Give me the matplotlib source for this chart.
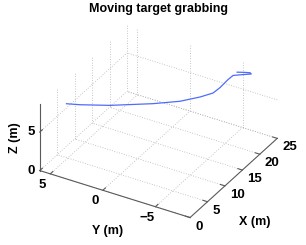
import numpy as np
import matplotlib
matplotlib.use("Agg")
import matplotlib.pyplot as plt
import matplotlib.transforms as mtransforms
from mpl_toolkits.mplot3d import proj3d

# ---------------- data ----------------
x_traj = [2.30, 3.04, 5.19, 8.85, 11.57, 14.23, 16.31, 18.29, 20.95, 22.45,
          23.47, 24.48, 24.69, 24.34, 23.87]
y_traj = [4.22, 3.20, 1.05, -1.84, -3.50, -4.53, -5.08, -5.09, -4.97, -4.95,
          -5.47, -6.00, -5.83, -5.37, -4.86]
z_traj = [8.50, 8.50, 8.45, 8.40, 8.30, 8.20, 8.10, 8.00, 7.90, 7.80,
          7.70, 7.60, 7.60, 7.60, 7.60]

x_ticks = [0, 5, 10, 15, 20, 25]
y_ticks = [-5, 0, 5]
z_ticks = [0, 5]
x_lim = (0, 25)
y_lim = (-8.3, 6.0)
z_lim = (0, 8.7)

title = "Moving target grabbing"
xlabel, ylabel, zlabel = "X (m)", "Y (m)", "Z (m)"

# ---------------- style ----------------
plt.rcParams['font.family'] = ['Liberation Sans', 'DejaVu Sans']
plt.rcParams['font.weight'] = 'bold'
W, H, DPI = 306, 245, 100
AXC = '#5a5a5a'
GRIDC = '#b4b4b4'
LINEC = '#4f6bff'

fig = plt.figure(figsize=(W / DPI, H / DPI), dpi=DPI)
ax = fig.add_axes([0.1, 0.1, 0.8, 0.8], projection='3d', proj_type='ortho',
                  computed_zorder=False)
ax.set_xlim(*x_lim)
ax.set_ylim(*y_lim)
ax.set_zlim(*z_lim)
ax.view_init(elev=32.2, azim=210.4)
ax.set_box_aspect((172, 174, 79))
ax.set_axis_off()

x0, x1 = x_lim
y0, y1 = y_lim
z0, z1 = z_lim

# grid (dotted) on floor and two back walls
gkw = dict(color=GRIDC, lw=0.6, ls=(0, (1, 2)), zorder=1)
for xv in x_ticks:
    ax.plot([xv, xv], [y0, y1], [z0, z0], **gkw)
    ax.plot([xv, xv], [y1, y1], [z0, z1], **gkw)
for yv in y_ticks:
    ax.plot([x0, x1], [yv, yv], [z0, z0], **gkw)
    ax.plot([x1, x1], [yv, yv], [z0, z1], **gkw)
for zv in z_ticks:
    ax.plot([x0, x1], [y1, y1], [zv, zv], **gkw)
    ax.plot([x1, x1], [y0, y1], [zv, zv], **gkw)

# axis lines
akw = dict(color=AXC, lw=0.8, zorder=3)
ax.plot([x0, x0], [y1, y0], [z0, z0], **akw)   # Y axis
ax.plot([x0, x1], [y0, y0], [z0, z0], **akw)   # X axis
ax.plot([x0, x0], [y1, y1], [z0, z1], **akw)   # Z axis
# tick marks
tx = 0.03 * (x1 - x0)
ty = 0.03 * (y1 - y0)
for yv in y_ticks:
    ax.plot([x0, x0 + tx], [yv, yv], [z0, z0], **akw)
for xv in x_ticks:
    ax.plot([xv, xv], [y0, y0 + ty], [z0, z0], **akw)
for zv in z_ticks:
    ax.plot([x0, x0 + tx], [y1, y1], [zv, zv], **akw)

# trajectory
ax.plot(x_traj, y_traj, z_traj, color=LINEC, lw=0.9, zorder=5)


def project(xs, ys, zs):
    M = ax.get_proj()
    px, py, _ = proj3d.proj_transform(np.asarray(xs, float), np.asarray(ys, float),
                                      np.asarray(zs, float), M)
    return ax.transData.transform(np.column_stack([px, py]))


# fit the drawn box onto target pixel corners (image coords, y down)
cx = [x0, x0, x1, x1, x0, x0, x1, x1]
cy = [y1, y0, y0, y1, y1, y0, y0, y1]
cz = [z0, z0, z0, z0, z1, z1, z1, z1]
tgt_img = np.array([[40, 171], [190, 218], [277, 139], [127, 92],
                    [40, 103], [190, 150], [277, 71], [127, 24]], float)
tgt = np.column_stack([tgt_img[:, 0], H - tgt_img[:, 1]])
for _ in range(4):
    fig.canvas.draw()
    p = project(cx, cy, cz)
    pm, tm = p.mean(0), tgt.mean(0)
    s = np.sum((p - pm) * (tgt - tm)) / np.sum((p - pm) ** 2)
    pos = ax.get_position(original=True)
    c = np.array([(pos.x0 + pos.width / 2) * W, (pos.y0 + pos.height / 2) * H])
    cn = tm - s * (pm - c)
    nw, nh = pos.width * s, pos.height * s
    ax.set_position([cn[0] / W - nw / 2, cn[1] / H - nh / 2, nw, nh])
fig.canvas.draw()

ident = mtransforms.IdentityTransform()
fs_tick = 9.5
# Y tick labels
pts = project([x0] * len(y_ticks), y_ticks, [z0] * len(y_ticks))
for (px, py), v in zip(pts, y_ticks):
    fig.text(px - 8, py - 11, f"{v}".replace('-', '\u2212'), transform=ident,
             ha='center', va='center', fontsize=fs_tick, fontweight='bold')
# X tick labels
pts = project(x_ticks, [y0] * len(x_ticks), [z0] * len(x_ticks))
for (px, py), v in zip(pts, x_ticks):
    fig.text(px + 5, py - 9, f"{v}", transform=ident,
             ha='left', va='center', fontsize=fs_tick, fontweight='bold')
# Z tick labels
pts = project([x0] * len(z_ticks), [y1] * len(z_ticks), z_ticks)
for (px, py), v in zip(pts, z_ticks):
    fig.text(px - 5, py, f"{v}", transform=ident,
             ha='right', va='center', fontsize=fs_tick, fontweight='bold')

fig.text(108 / W, 1 - 231 / H, ylabel, ha='center', va='center',
         fontsize=9, fontweight='bold')
fig.text(255 / W, 1 - 222 / H, xlabel, ha='center', va='center',
         fontsize=9, fontweight='bold')
fig.text(15 / W, 1 - 138 / H, zlabel, ha='center', va='center', rotation=90,
         fontsize=9, fontweight='bold')
fig.text(158 / W, 1 - 9 / H, title, ha='center', va='center',
         fontsize=9, fontweight='bold')

fig.savefig("out.png", dpi=DPI)
